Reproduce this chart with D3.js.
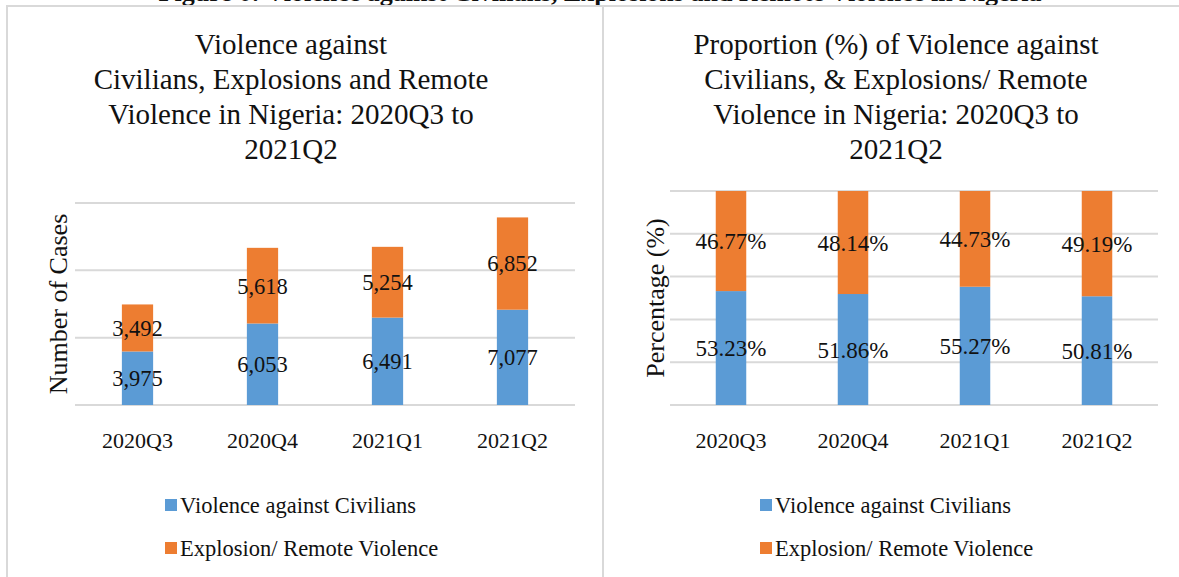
<!DOCTYPE html>
<html>
<head>
<meta charset="utf-8">
<script src="https://cdn.jsdelivr.net/npm/d3@7"></script>
<style>
  body { margin: 0; background: #fff; }
  svg text { font-family: "Liberation Serif", "DejaVu Serif", serif; fill: #111; }
</style>
</head>
<body>
<div id="chart"></div>
<script>
// data
var quarters = ["2020Q3", "2020Q4", "2021Q1", "2021Q2"];
var civilians = [3975, 6053, 6491, 7077];
var explosions = [3492, 5618, 5254, 6852];
var civiliansPct = [53.23, 51.86, 55.27, 50.81];
var explosionsPct = [46.77, 48.14, 44.73, 49.19];
var seriesNames = ["Violence against Civilians", "Explosion/ Remote Violence"];
var countTicks = [0, 5000, 10000, 15000];
var pctTicks = [0, 20, 40, 60, 80, 100];

var colors = ["#5b9bd5", "#ed7d31"];
var gridColor = "#d9d9d9";
var serif = "'Liberation Serif', 'DejaVu Serif', serif";

var svg = d3.select("#chart")
    .append("svg")
    .attr("width", 1179)
    .attr("height", 577)
    .attr("font-family", serif);

svg.append("rect").attr("width", 1179).attr("height", 577).attr("fill", "#fff");

// figure caption, mostly cut off at the top
svg.append("text")
    .attr("x", 600)
    .attr("y", 1)
    .attr("text-anchor", "middle")
    .style("font-family", serif)
    .style("font-size", "26px")
    .style("font-weight", "bold")
    .text("Figure 6: Violence against Civilians, Explosions and Remote Violence in Nigeria");

// panel frames
svg.append("rect")
    .attr("x", 7).attr("y", 6).attr("width", 596).attr("height", 600)
    .attr("fill", "none").attr("stroke", gridColor).attr("stroke-width", 2);
svg.append("rect")
    .attr("x", 603).attr("y", 6).attr("width", 600).attr("height", 600)
    .attr("fill", "none").attr("stroke", gridColor).attr("stroke-width", 2);

function drawPanel(opt) {
    var g = svg.append("g");

    // title
    g.append("text")
        .attr("text-anchor", "middle")
        .style("font-family", serif)
        .style("font-size", "29px")
        .selectAll("tspan")
        .data(opt.title)
        .enter()
        .append("tspan")
        .attr("x", opt.titleX)
        .attr("y", function (d, i) { return 54 + i * 35; })
        .text(function (d) { return d; });

    var x = d3.scaleBand()
        .domain(quarters)
        .range([opt.left, opt.right])
        .paddingInner(0.75)
        .paddingOuter(0.375);

    var y = d3.scaleLinear()
        .domain([0, opt.max])
        .range([opt.bottom, opt.top]);

    // gridlines
    g.append("g")
        .selectAll("line")
        .data(opt.ticks)
        .enter()
        .append("line")
        .attr("x1", opt.left)
        .attr("x2", opt.right)
        .attr("y1", function (d) { return y(d); })
        .attr("y2", function (d) { return y(d); })
        .attr("stroke", gridColor)
        .attr("stroke-width", 2);

    var rows = quarters.map(function (q, i) {
        return {q: q, a: opt.a[i], b: opt.b[i]};
    });
    var stacked = d3.stack().keys(["a", "b"])(rows);

    var layers = g.selectAll("g.layer")
        .data(stacked)
        .enter()
        .append("g")
        .attr("class", "layer")
        .attr("fill", function (d, i) { return colors[i]; });

    layers.selectAll("rect")
        .data(function (d) { return d; })
        .enter()
        .append("rect")
        .attr("x", function (d) { return x(d.data.q); })
        .attr("width", x.bandwidth())
        .attr("y", function (d) { return y(d[1]); })
        .attr("height", function (d) { return y(d[0]) - y(d[1]); });

    // value labels in middle of segments
    layers.selectAll("text")
        .data(function (d) { return d.map(function (p) { return {p: p, key: d.key}; }); })
        .enter()
        .append("text")
        .attr("x", function (d) { return x(d.p.data.q) + x.bandwidth() / 2; })
        .attr("y", function (d) { return (y(d.p[0]) + y(d.p[1])) / 2; })
        .attr("dy", "0.35em")
        .attr("text-anchor", "middle")
        .style("font-family", serif)
        .style("font-size", opt.labelSize)
        .style("fill", "#111")
        .text(function (d) { return opt.fmt(d.p.data[d.key]); });

    // x axis labels
    var xAxis = g.append("g")
        .attr("transform", "translate(0," + opt.bottom + ")")
        .call(d3.axisBottom(x).tickSize(0).tickPadding(27));
    xAxis.select(".domain").remove();
    xAxis.selectAll("text")
        .style("font-size", "22px")
        .style("font-family", serif)
        .attr("fill", "#111");

    // y axis title
    g.append("text")
        .attr("transform", "translate(" + opt.yLabelX + "," + ((opt.top + opt.bottom) / 2) + ") rotate(-90)")
        .attr("text-anchor", "middle")
        .attr("dy", "0.35em")
        .style("font-family", serif)
        .style("font-size", "26px")
        .text(opt.yLabel);

    // legend
    var legend = g.selectAll("g.legend")
        .data(seriesNames)
        .enter()
        .append("g")
        .attr("class", "legend")
        .attr("transform", function (d, i) { return "translate(" + opt.legendX + "," + (505 + i * 43) + ")"; });
    legend.append("rect")
        .attr("x", 0).attr("y", -6)
        .attr("width", 12).attr("height", 12)
        .attr("fill", function (d, i) { return colors[i]; });
    legend.append("text")
        .attr("x", 15)
        .attr("dy", "0.35em")
        .style("font-family", serif)
        .style("font-size", "22.5px")
        .text(function (d) { return d; });
}

drawPanel({
    title: ["Violence against", "Civilians, Explosions and Remote", "Violence in Nigeria: 2020Q3 to", "2021Q2"],
    titleX: 291,
    left: 75, right: 575, top: 203, bottom: 405,
    max: 15000, ticks: countTicks,
    a: civilians, b: explosions,
    fmt: d3.format(","),
    labelSize: "22.5px",
    yLabel: "Number of Cases", yLabelX: 58,
    legendX: 165
});

drawPanel({
    title: ["Proportion (%) of Violence against", "Civilians, & Explosions/ Remote", "Violence in Nigeria: 2020Q3 to", "2021Q2"],
    titleX: 896,
    left: 670, right: 1158, top: 191, bottom: 405,
    max: 100, ticks: pctTicks,
    a: civiliansPct, b: explosionsPct,
    fmt: function (v) { return v.toFixed(2) + "%"; },
    labelSize: "23px",
    yLabel: "Percentage (%)", yLabelX: 655,
    legendX: 760
});
</script>
</body>
</html>
